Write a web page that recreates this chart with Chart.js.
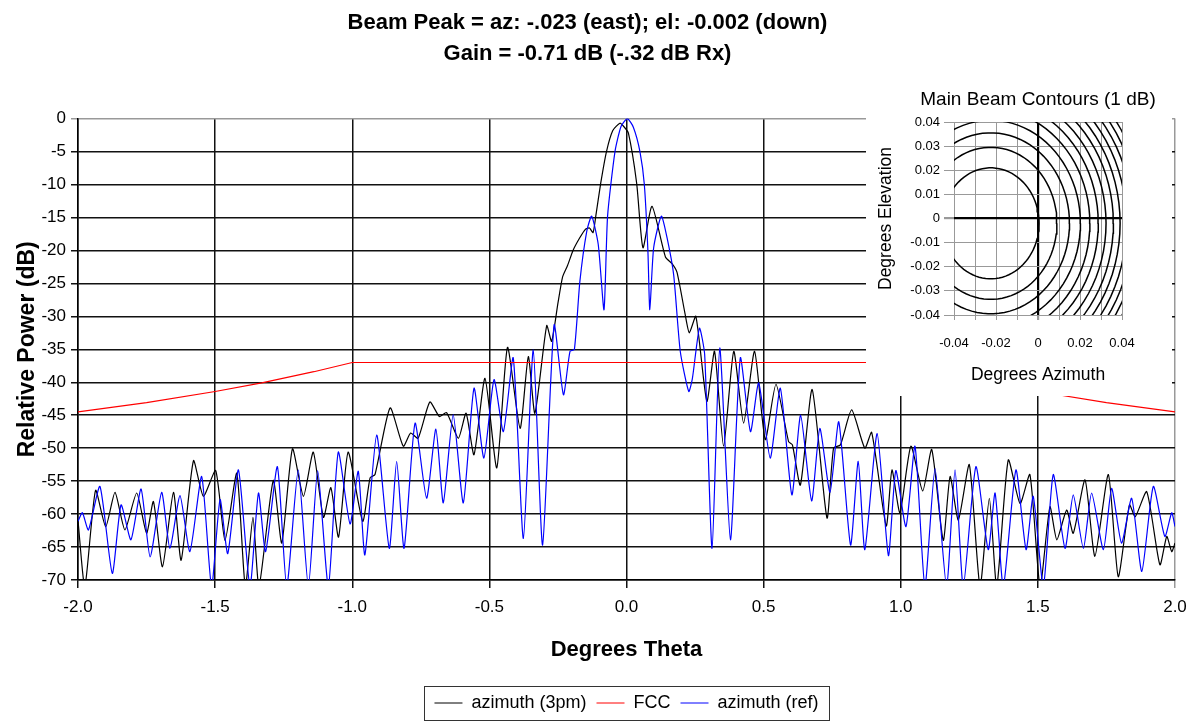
<!DOCTYPE html>
<html>
<head>
<meta charset="utf-8">
<script src="https://cdn.jsdelivr.net/npm/chart.js@4.4.0/dist/chart.umd.min.js"></script>
<style>
  html, body { margin: 0; padding: 0; background: #fff; }
  #wrap { position: relative; width: 1194px; height: 723px; }
  #main { position: absolute; left: 0; top: 0; }
  #inset { position: absolute; left: 866px; top: 80px; background: #fff; }
</style>
</head>
<body>
<div id="wrap">
  <canvas id="main" width="1194" height="723"></canvas>
  <canvas id="inset" width="306" height="316"></canvas>
</div>
<script>
// azimuth (3pm) cut, degrees theta / relative dB
var az3pm_theta = [-2.000, -1.975, -1.936, -1.899, -1.865, -1.829, -1.786, -1.750, -1.725, -1.692,
  -1.652, -1.624, -1.579, -1.543, -1.498, -1.464, -1.421, -1.390, -1.362, -1.340,
  -1.288, -1.257, -1.218, -1.178, -1.142, -1.105, -1.078, -1.050, -1.015, -0.962,
  -0.935, -0.917, -0.862, -0.814, -0.787, -0.760, -0.717, -0.682, -0.656, -0.613,
  -0.585, -0.556, -0.516, -0.473, -0.434, -0.388, -0.358, -0.334, -0.291, -0.273,
  -0.250, -0.233, -0.215, -0.195, -0.172, -0.150, -0.135, -0.122, -0.112, -0.094,
  -0.073, -0.050, -0.024, -0.010, 0.007, 0.037, 0.060, 0.093, 0.142, 0.166,
  0.184, 0.213, 0.229, 0.253, 0.293, 0.321, 0.354, 0.391, 0.427, 0.467,
  0.506, 0.545, 0.591, 0.605, 0.634, 0.677, 0.731, 0.755, 0.780, 0.821,
  0.869, 0.894, 0.947, 0.968, 0.997, 1.037, 1.080, 1.113, 1.155, 1.180,
  1.210, 1.250, 1.289, 1.323, 1.350, 1.392, 1.435, 1.471, 1.508, 1.544,
  1.569, 1.605, 1.629, 1.672, 1.708, 1.757, 1.793, 1.834, 1.855, 1.897,
  1.945, 1.970, 1.988, 2.000];
var az3pm_db = [-61, -71, -56.4, -61.9, -56.7, -62.4, -56.8, -62.9, -58.1, -68,
  -56.7, -67, -51.9, -57.3, -53.4, -64, -53.8, -71, -60.5, -71,
  -54.9, -64.4, -50.1, -57.3, -50.6, -60.5, -56, -63.5, -50.6, -61.1,
  -54.5, -54, -43.9, -49.7, -47.7, -48.5, -43, -45.2, -44.6, -48.5,
  -44.7, -51, -39.4, -53, -34.7, -47, -36.1, -44.7, -31.4, -33.8,
  -28, -24, -22.3, -20, -18.2, -16.8, -16.6, -17.3, -14.8, -9.8,
  -5, -1.8, -0.7, -1.2, -2.2, -9.8, -19.6, -13.3, -21, -22,
  -23.3, -29.5, -32.5, -30, -42.9, -35.3, -49.7, -35.3, -46.2, -35.3,
  -48.7, -40.3, -49, -49.5, -55.6, -41.1, -60.6, -50, -49.5, -44.2,
  -50, -47.6, -61.8, -53.3, -59.8, -49.7, -56.5, -50.2, -64, -54.3,
  -60.9, -52.5, -71, -57.6, -71, -51.8, -58.4, -54, -71, -58.9,
  -63.9, -59.4, -62.9, -54.8, -66.4, -54, -69.5, -58.6, -60.4, -56.6,
  -67.7, -63.4, -65.7, -64.4];

// azimuth (ref) cut
var azref_theta = [-2.000, -1.984, -1.962, -1.920, -1.875, -1.843, -1.807, -1.770, -1.737, -1.695,
  -1.665, -1.628, -1.592, -1.549, -1.513, -1.482, -1.454, -1.415, -1.373, -1.342,
  -1.316, -1.273, -1.239, -1.197, -1.160, -1.126, -1.087, -1.051, -1.008, -0.978,
  -0.954, -0.911, -0.865, -0.838, -0.811, -0.771, -0.729, -0.695, -0.668, -0.632,
  -0.595, -0.556, -0.520, -0.483, -0.449, -0.413, -0.376, -0.340, -0.306, -0.264,
  -0.230, -0.206, -0.190, -0.170, -0.145, -0.127, -0.103, -0.082, -0.069, -0.042,
  -0.020, 0.003, 0.025, 0.049, 0.065, 0.078, 0.085, 0.099, 0.127, 0.148,
  0.172, 0.196, 0.227, 0.240, 0.266, 0.285, 0.312, 0.340, 0.379, 0.415,
  0.452, 0.482, 0.524, 0.561, 0.603, 0.635, 0.675, 0.705, 0.742, 0.774,
  0.817, 0.845, 0.869, 0.914, 0.955, 0.982, 1.019, 1.052, 1.088, 1.125,
  1.167, 1.198, 1.228, 1.274, 1.319, 1.344, 1.374, 1.420, 1.457, 1.483,
  1.520, 1.556, 1.599, 1.629, 1.666, 1.696, 1.739, 1.769, 1.805, 1.842,
  1.879, 1.921, 1.963, 1.988, 2.000];
var azref_db = [-61.1, -59.8, -62.4, -55.8, -69, -58.6, -63.9, -56.2, -66.5, -56.7,
  -65.2, -57.2, -65.7, -54.3, -71, -57.8, -66, -53.3, -71, -56.8,
  -65.7, -52.8, -71, -53.3, -71, -53.4, -71, -50.6, -61.5, -53.5,
  -66.2, -48, -65.2, -52, -65.2, -46.2, -57.6, -47.1, -58.3, -44.9,
  -58.3, -40.9, -51.5, -39.6, -47.5, -36.3, -63.7, -35.1, -64.7, -31.3,
  -41.9, -35.3, -35, -24.7, -17.1, -14.8, -19.1, -29, -14.8, -5,
  -1.2, 0, -1.3, -5, -10, -20, -29, -19.6, -14.8, -18.1,
  -23.7, -35.3, -41.4, -39.5, -31.8, -35.8, -65.2, -34.8, -63.9, -36.3,
  -47.5, -40.1, -51.5, -40.9, -57.1, -45, -58, -47, -56.7, -46,
  -64.7, -52, -65.4, -47.8, -66.3, -53.4, -61.9, -49.7, -71, -53.1,
  -71, -53.3, -71, -52.8, -65.4, -56.8, -71, -53.3, -65.4, -57.3,
  -71, -54, -65.2, -57.1, -65.2, -56.8, -65.4, -56.1, -64.4, -57.6,
  -68.7, -55.8, -63.4, -59.8, -61.9];

// FCC mask
var fcc_theta = [-2.0, -1.75, -1.5, -1.33, -1.14, -1.0, 1.0, 1.14, 1.33, 1.5, 1.75, 2.0];
var fcc_db = [-44.5, -43.1, -41.4, -40.1, -38.4, -37, -37, -38.4, -40.1, -41.4, -43.1, -44.5];

// inset: 1 dB contours round the beam peak
var beam_az = -0.0225;
var beam_el = -0.002;
var contour_radii = [0.023, 0.0315, 0.0375, 0.0427, 0.0472, 0.0512, 0.0549, 0.0584, 0.0616,
  0.0647, 0.0677, 0.0705, 0.0732];

var title_lines = ['Beam Peak = az: -.023 (east); el: -0.002 (down)', 'Gain = -0.71 dB (-.32 dB Rx)'];
var inset_title_text = 'Main Beam Contours (1 dB)';

var font_family = '"Liberation Sans", Arial, Helvetica, sans-serif';
Chart.defaults.font.family = font_family;
Chart.defaults.color = '#000';

function to_points (xs, ys) {
  return xs.map(function (x, i) { return { x: x, y: ys[i] }; });
}

var legend_box = {
  id: 'legend_box',
  afterDraw: function (chart) {
    var boxes = chart.legend && chart.legend.legendHitBoxes;
    if (!boxes || !boxes.length) return;
    var first = boxes[0];
    var last = boxes[boxes.length - 1];
    var ctx = chart.ctx;
    var left = Math.round(first.left - 10) + 0.5;
    var right = Math.round(last.left + last.width + 10) + 0.5;
    var top = Math.round(first.top + first.height / 2 - 17) + 0.5;
    ctx.save();
    ctx.strokeStyle = '#333';
    ctx.lineWidth = 1;
    ctx.strokeRect(left, top, right - left, 34);
    ctx.restore();
  }
};

// inset title centred over the inset plot area
var inset_title = {
  id: 'inset_title',
  afterDraw: function (chart) {
    var a = chart.chartArea;
    var ctx = chart.ctx;
    ctx.save();
    ctx.font = '19px ' + font_family;
    ctx.fillStyle = '#000';
    ctx.textAlign = 'center';
    ctx.textBaseline = 'middle';
    ctx.fillText(inset_title_text, (a.left + a.right) / 2, 20);
    ctx.restore();
  }
};

var main_ctx = document.getElementById('main').getContext('2d');
var main_chart = new Chart(main_ctx, {
  type: 'line',
  data: {
    datasets: [{
      label: 'azimuth (3pm)',
      data: to_points(az3pm_theta, az3pm_db),
      borderColor: '#000000',
      backgroundColor: '#000000',
      order: 2
    }, {
      label: 'FCC',
      data: to_points(fcc_theta, fcc_db),
      borderColor: '#ff0000',
      backgroundColor: '#ff0000',
      tension: 0,
      order: 0
    }, {
      label: 'azimuth (ref)',
      data: to_points(azref_theta, azref_db),
      borderColor: '#0000ff',
      backgroundColor: '#0000ff',
      order: 1
    }]
  },
  options: {
    responsive: false,
    animation: false,
    devicePixelRatio: 1,
    layout: { padding: { left: 0, right: 19, top: 0, bottom: 1 } },
    elements: {
      point: { radius: 0 },
      line: { tension: 0.2, borderWidth: 1.2, fill: false }
    },
    plugins: {
      title: {
        display: true,
        text: title_lines,
        font: { size: 22, weight: 'bold', lineHeight: 1.4 },
        color: '#000',
        padding: { top: 8, bottom: 49 }
      },
      legend: {
        position: 'bottom',
        fullSize: false,
        labels: {
          usePointStyle: true,
          pointStyle: 'line',
          pointStyleWidth: 28,
          padding: 10,
          color: '#000',
          font: { size: 18 },
          sort: function (a, b) { return a.datasetIndex - b.datasetIndex; }
        }
      },
      tooltip: { enabled: false }
    },
    scales: {
      x: {
        type: 'linear',
        min: -2,
        max: 2,
        afterFit: function (scale) {
          scale.height = 104;
          scale.paddingRight = 0;
        },
        ticks: {
          stepSize: 0.5,
          maxRotation: 0,
          padding: 9,
          color: '#000',
          font: { size: 17 },
          callback: function (v) { return v.toFixed(1); }
        },
        grid: {
          color: function (c) { return c.tick && c.tick.value === 2 ? '#999' : '#111'; },
          lineWidth: 1.5,
          tickLength: 8
        },
        border: { color: '#000', width: 1.5 },
        title: {
          display: true,
          text: 'Degrees Theta',
          color: '#000',
          font: { size: 22, weight: 'bold' },
          padding: { top: 19, bottom: 21 }
        }
      },
      y: {
        min: -70,
        max: 0,
        afterFit: function (scale) { scale.width = 78; },
        ticks: {
          stepSize: 5,
          padding: 5,
          color: '#000',
          font: { size: 17 }
        },
        grid: {
          color: function (c) { return c.tick && c.tick.value === 0 ? '#999' : '#111'; },
          lineWidth: 1.5,
          tickLength: 7
        },
        border: { color: '#000', width: 1.5 },
        title: {
          display: true,
          text: 'Relative Power (dB)',
          color: '#000',
          font: { size: 23, weight: 'bold' },
          padding: { top: 14, bottom: 0 }
        }
      }
    }
  },
  plugins: [legend_box]
});

// inset chart
var contour_sets = contour_radii.map(function (r) {
  var pts = [];
  for (var k = 0; k <= 90; k++) {
    var a = k * 2 * Math.PI / 90;
    pts.push({ x: beam_az + r * Math.cos(a), y: beam_el + r * Math.sin(a) });
  }
  return {
    data: pts,
    showLine: true,
    borderColor: '#000',
    borderWidth: 1.5,
    pointRadius: 0,
    tension: 0
  };
});

function zero_color (c) {
  return c.tick && Math.abs(c.tick.value) < 1e-9 ? '#000' : '#999';
}
function zero_width (c) {
  return c.tick && Math.abs(c.tick.value) < 1e-9 ? 2.2 : 1;
}

var inset_ctx = document.getElementById('inset').getContext('2d');
var inset_chart = new Chart(inset_ctx, {
  type: 'scatter',
  data: { datasets: contour_sets },
  options: {
    responsive: false,
    animation: false,
    devicePixelRatio: 1,
    layout: { padding: { left: 0, right: 50, top: 42, bottom: 0 } },
    plugins: {
      legend: { display: false },
      tooltip: { enabled: false },
      title: { display: false }
    },
    scales: {
      x: {
        type: 'linear',
        min: -0.04,
        max: 0.04,
        afterFit: function (scale) { scale.height = 81; },
        ticks: {
          stepSize: 0.01,
          autoSkip: false,
          maxRotation: 0,
          padding: 16,
          color: '#000',
          font: { size: 13 },
          callback: function (v) {
            var n = Math.round(v * 100);
            return n % 2 === 0 ? String(n / 100) : '';
          }
        },
        grid: { color: zero_color, lineWidth: zero_width, tickLength: 5, tickColor: '#999' },
        border: { display: false },
        title: {
          display: true,
          text: 'Degrees Azimuth',
          color: '#000',
          font: { size: 17.5 },
          padding: { top: 14, bottom: 10 }
        }
      },
      y: {
        min: -0.04,
        max: 0.04,
        afterFit: function (scale) { scale.width = 88; },
        ticks: {
          stepSize: 0.01,
          autoSkip: false,
          padding: 4,
          color: '#000',
          font: { size: 13 },
          callback: function (v) { return String(Math.round(v * 100) / 100); }
        },
        grid: { color: zero_color, lineWidth: zero_width, tickLength: 10, tickColor: '#999' },
        border: { display: false },
        title: {
          display: true,
          text: 'Degrees Elevation',
          color: '#000',
          font: { size: 17.5 },
          padding: { top: 10, bottom: 0 }
        }
      }
    }
  },
  plugins: [inset_title]
});
</script>
</body>
</html>
